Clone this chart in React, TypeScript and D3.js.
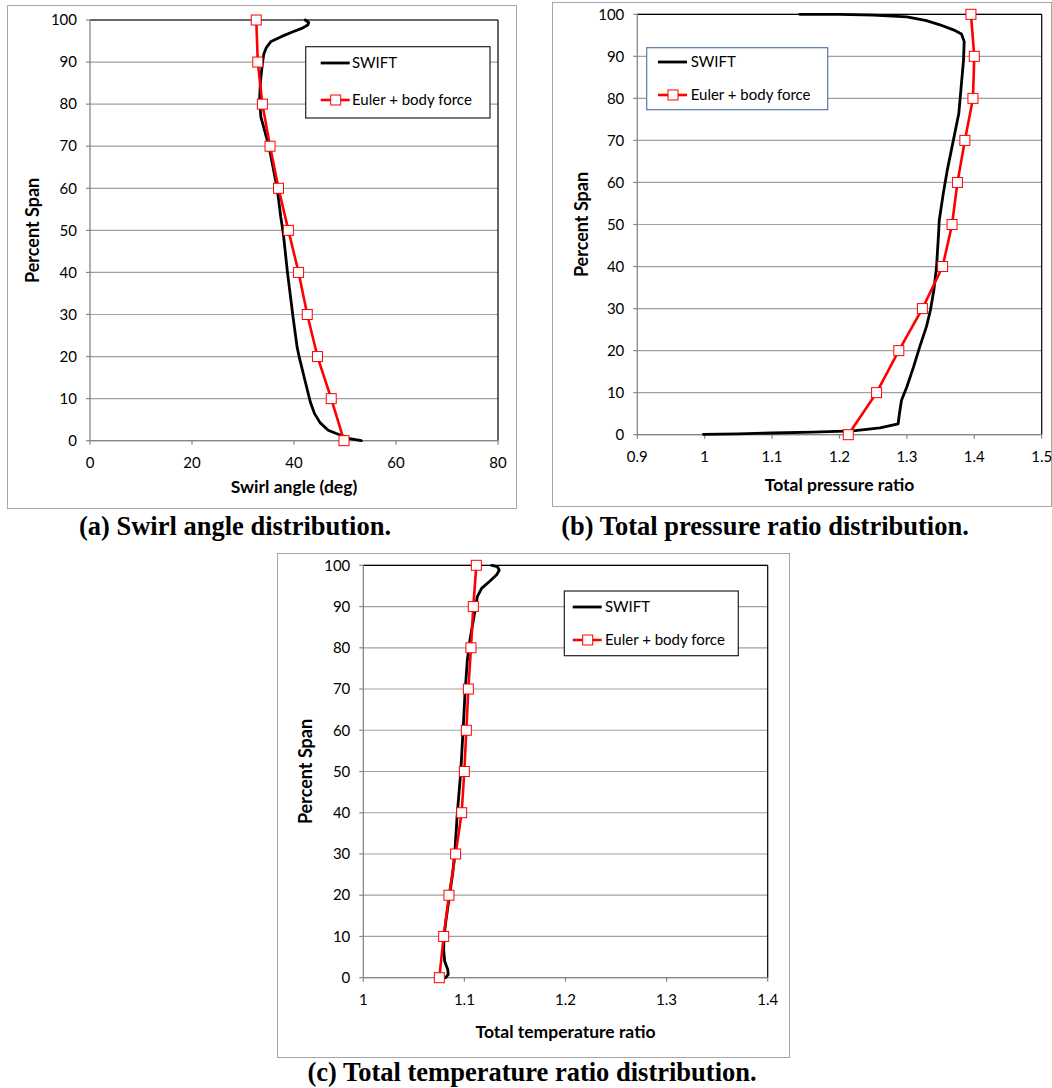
import * as d3 from "d3";

// span positions shared by every panel
const spanTicks = [0, 10, 20, 30, 40, 50, 60, 70, 80, 90, 100];
const eulerSpan = [0, 10, 20, 30, 40, 50, 60, 70, 80, 90, 100];

// (a) swirl angle
const swirlEuler = [49.8, 47.3, 44.6, 42.6, 40.9, 38.9, 36.96, 35.3, 33.8, 32.9, 32.6];
const swirlSwift: [number, number][] = [
  [53.2, 0], [50.9, 0.5], [48.3, 1.7], [46.7, 2.5], [45.1, 4.3], [44.0, 6.5],
  [43.2, 9.2], [42.3, 13.6], [41.0, 20], [40.6, 22.3], [39.8, 29.5], [38.7, 40.2],
  [37.9, 49.3], [37.4, 53.2], [36.7, 60], [35.1, 69.9], [33.5, 77], [33.25, 81],
  [33.4, 85], [33.8, 89.7], [34.1, 92], [34.6, 93.5], [35.5, 94.9], [37.6, 96.1],
  [39.8, 97.2], [41.5, 98], [42.7, 98.8], [42.9, 99.4], [42.2, 100],
];
const swirlTicks = [0, 20, 40, 60, 80];

// (b) total pressure ratio
const pressureEuler = [1.213, 1.255, 1.288, 1.323, 1.353, 1.367, 1.375, 1.386, 1.398, 1.4, 1.395];
const pressureSwift: [number, number][] = [
  [0.998, 0.1], [1.05, 0.2], [1.1, 0.4], [1.16, 0.6], [1.22, 0.9], [1.26, 1.6],
  [1.287, 2.6], [1.289, 5.1], [1.292, 8.2], [1.3, 11.4], [1.31, 16.2], [1.319, 20.9],
  [1.329, 25.7], [1.335, 29.7], [1.34, 34.4], [1.344, 40], [1.347, 47.9], [1.348, 51],
  [1.354, 57.4], [1.36, 63], [1.369, 70.1], [1.377, 76.4], [1.381, 83.6], [1.384, 89.1],
  [1.385, 93.5], [1.381, 95.3], [1.369, 96.3], [1.349, 97.5], [1.329, 98.5], [1.3, 99.4],
  [1.25, 99.8], [1.2, 100], [1.141, 100],
];
const pressureTicks = [0.9, 1, 1.1, 1.2, 1.3, 1.4, 1.5];

// (c) total temperature ratio
const temperatureEuler = [1.0752, 1.0795, 1.0847, 1.0913, 1.0973, 1.0999, 1.1019, 1.1039, 1.1065, 1.1088, 1.1118];
const temperatureSwift: [number, number][] = [
  [1.0815, 0], [1.084, 0.8], [1.0835, 2], [1.0805, 4], [1.0795, 6.7], [1.0798, 9.9],
  [1.0818, 14], [1.0851, 19.6], [1.0884, 25.3], [1.0907, 31], [1.093, 39.9],
  [1.0963, 49.6], [1.0989, 60.9], [1.1006, 69], [1.1029, 77], [1.1055, 81.9],
  [1.1095, 87.6], [1.1128, 92.4], [1.117, 94.4], [1.1253, 96.2], [1.1319, 97.7],
  [1.1345, 98.8], [1.1325, 99.7], [1.127, 100],
];
const temperatureTicks = [1, 1.1, 1.2, 1.3, 1.4];

const seriesNames = ["SWIFT", "Euler + body force"];

const FONT = "Lato, 'Open Sans', sans-serif";
const RED = "#ff0000";

type PanelProps = {
  plot: { left: number; right: number; top: number; bottom: number };
  frame: { x0: number; y0: number; x1: number; y1: number };
  xTicks: number[];
  xLabel: string;
  euler: number[];
  swift: [number, number][];
  titleY: number;
  yTitleX: number;
  legend: { x: number; y: number; w: number; h: number; border: string; rows: number[]; lineX: number; textX: number };
  caption: string;
  captionX: number;
  captionY: number;
};

function fmt(v: number) {
  return String(+v.toFixed(1));
}

function Panel(p: PanelProps) {
  const x = d3
    .scaleLinear()
    .domain([p.xTicks[0], p.xTicks[p.xTicks.length - 1]])
    .range([p.plot.left, p.plot.right]);
  const y = d3.scaleLinear().domain([0, 100]).range([p.plot.bottom, p.plot.top]);

  const line = d3
    .line<[number, number]>()
    .x((d) => x(d[0]))
    .y((d) => y(d[1]));

  const eulerPts: [number, number][] = p.euler.map((v, i) => [v, eulerSpan[i]]);
  const lg = p.legend;
  const lineW = 30;

  return (
    <g>
      <rect
        x={p.frame.x0 + 0.5}
        y={p.frame.y0 + 0.5}
        width={p.frame.x1 - p.frame.x0}
        height={p.frame.y1 - p.frame.y0}
        fill="#fff"
        stroke="#a6a6a6"
        strokeWidth={1}
      />
      {/* grid */}
      {spanTicks.map((t) => (
        <line key={"g" + t} x1={p.plot.left} x2={p.plot.right} y1={y(t)} y2={y(t)} stroke="#a0a0a0" strokeWidth={1.2} />
      ))}
      {/* plot border top / right */}
      <line x1={p.plot.left} x2={p.plot.right} y1={p.plot.top} y2={p.plot.top} stroke="#000" strokeWidth={1.2} />
      <line x1={p.plot.right} x2={p.plot.right} y1={p.plot.top} y2={p.plot.bottom} stroke="#000" strokeWidth={1.2} />
      {/* axes */}
      <line x1={p.plot.left} x2={p.plot.left} y1={p.plot.top} y2={p.plot.bottom} stroke="#868686" strokeWidth={1.3} />
      <line x1={p.plot.left} x2={p.plot.right} y1={p.plot.bottom} y2={p.plot.bottom} stroke="#868686" strokeWidth={1.3} />
      {spanTicks.map((t) => (
        <g key={"y" + t}>
          <line x1={p.plot.left - 4} x2={p.plot.left} y1={y(t)} y2={y(t)} stroke="#868686" strokeWidth={1.2} />
          <text x={p.plot.left - 13} y={y(t)} dy="0.35em" textAnchor="end" fontFamily={FONT} fontSize={15} fill="#000">
            {t}
          </text>
        </g>
      ))}
      {p.xTicks.map((t) => (
        <g key={"x" + t}>
          <line x1={x(t)} x2={x(t)} y1={p.plot.bottom} y2={p.plot.bottom + 4} stroke="#868686" strokeWidth={1.2} />
          <text x={x(t)} y={p.plot.bottom + 22} dy="0.35em" textAnchor="middle" fontFamily={FONT} fontSize={15} fill="#000">
            {fmt(t)}
          </text>
        </g>
      ))}
      <text
        x={(p.plot.left + p.plot.right) / 2}
        y={p.titleY}
        dy="0.35em"
        textAnchor="middle"
        fontFamily={FONT}
        fontWeight="bold"
        fontSize={17.5}
      >
        {p.xLabel}
      </text>
      <text
        transform={`translate(${p.yTitleX},${(p.plot.top + p.plot.bottom) / 2}) rotate(-90)`}
        dy="0.35em"
        textAnchor="middle"
        fontFamily={FONT}
        fontWeight="bold"
        fontSize={18}
      >
        Percent Span
      </text>
      {/* series */}
      <path d={line(p.swift) ?? ""} fill="none" stroke="#000" strokeWidth={2.8} strokeLinejoin="round" strokeLinecap="round" />
      <path d={line(eulerPts) ?? ""} fill="none" stroke={RED} strokeWidth={2.6} strokeLinejoin="round" />
      {eulerPts.map((d, i) => (
        <rect key={"m" + i} x={x(d[0]) - 5} y={y(d[1]) - 5} width={10} height={10} fill="#fff" stroke={RED} strokeWidth={1} />
      ))}
      {/* legend */}
      <rect x={lg.x} y={lg.y} width={lg.w} height={lg.h} fill="#fff" stroke={lg.border} strokeWidth={1.2} />
      <line x1={lg.lineX} x2={lg.lineX + lineW - 1} y1={lg.rows[0]} y2={lg.rows[0]} stroke="#000" strokeWidth={2.8} />
      <text x={lg.textX} y={lg.rows[0]} dy="0.35em" fontFamily={FONT} fontSize={15}>
        {seriesNames[0]}
      </text>
      <line x1={lg.lineX} x2={lg.lineX + lineW - 1} y1={lg.rows[1]} y2={lg.rows[1]} stroke={RED} strokeWidth={2.6} />
      <rect x={lg.lineX + lineW / 2 - 5} y={lg.rows[1] - 5} width={10} height={10} fill="#fff" stroke={RED} strokeWidth={1} />
      <text x={lg.textX} y={lg.rows[1]} dy="0.35em" fontFamily={FONT} fontSize={15}>
        {seriesNames[1]}
      </text>
      <text
        x={p.captionX}
        y={p.captionY}
        dy="0.35em"
        textAnchor="middle"
        fontFamily="'Liberation Serif', 'Times New Roman', serif"
        fontWeight="bold"
        fontSize={26.5}
      >
        {p.caption}
      </text>
    </g>
  );
}

export default function App() {
  return (
    <svg width={1052} height={1088} style={{ position: "absolute", left: 0, top: 0, background: "#fff" }}>
      <rect width={1052} height={1088} fill="#fff" />
      <Panel
        plot={{ left: 90, right: 498, top: 20, bottom: 440.7 }}
        frame={{ x0: 7, y0: 5, x1: 516, y1: 508 }}
        xTicks={swirlTicks}
        xLabel="Swirl angle (deg)"
        euler={swirlEuler}
        swift={swirlSwift}
        titleY={487}
        yTitleX={33}
        legend={{ x: 305.7, y: 46.7, w: 184.3, h: 71.3, border: "#222", rows: [63, 100], lineX: 320.7, textX: 352 }}
        caption="(a) Swirl angle distribution."
        captionX={235}
        captionY={526}
      />
      <Panel
        plot={{ left: 637.3, right: 1041.7, top: 14.3, bottom: 434.7 }}
        frame={{ x0: 552, y0: 2, x1: 1051, y1: 506 }}
        xTicks={pressureTicks}
        xLabel="Total pressure ratio"
        euler={pressureEuler}
        swift={pressureSwift}
        titleY={485}
        yTitleX={582}
        legend={{ x: 646.7, y: 47.7, w: 181, h: 62, border: "#5a78a8", rows: [62, 95], lineX: 658, textX: 690.7 }}
        caption="(b) Total pressure ratio distribution."
        captionX={765}
        captionY={526}
      />
      <Panel
        plot={{ left: 363.3, right: 767.7, top: 565.3, bottom: 977.7 }}
        frame={{ x0: 277, y0: 553, x1: 789, y1: 1057 }}
        xTicks={temperatureTicks}
        xLabel="Total temperature ratio"
        euler={temperatureEuler}
        swift={temperatureSwift}
        titleY={1032}
        yTitleX={306}
        legend={{ x: 564.3, y: 591, w: 174, h: 64.7, border: "#222", rows: [607, 640], lineX: 572.7, textX: 605 }}
        caption="(c) Total temperature ratio distribution."
        captionX={532}
        captionY={1072}
      />
    </svg>
  );
}
